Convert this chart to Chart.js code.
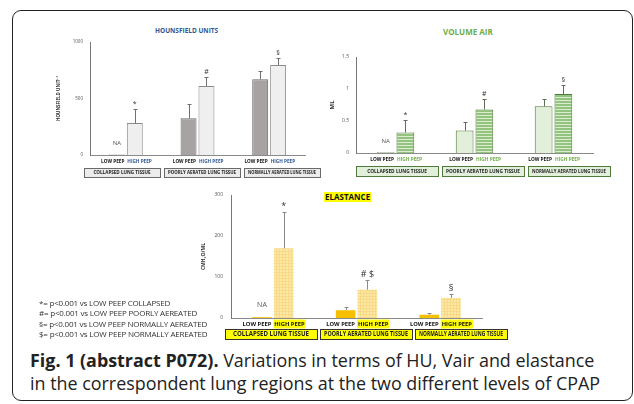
<!DOCTYPE html>
<html>
<head>
<meta charset="utf-8">
<script src="https://cdn.jsdelivr.net/npm/chart.js@4.4.1/dist/chart.umd.min.js"></script>
<style>
  body { margin: 0; width: 634px; height: 404px; background: #fff; position: relative; overflow: hidden; font-family: 'Open Sans', sans-serif; }
  #frame { position: absolute; left: 12px; top: 10px; width: 619px; height: 389px; border: 1.5px solid #222; border-radius: 9px; }
  canvas { position: absolute; }
  .t { position: absolute; white-space: nowrap; font-weight: bold; line-height: 1; }
  #notes { position: absolute; left: 39px; top: 298px; font-size: 8px; line-height: 10.3px; color: #333; letter-spacing: -0.2px; }
  #caption { position: absolute; left: 30px; top: 349px; font-size: 17.9px; line-height: 22.5px; color: #222; white-space: nowrap; }
</style>
</head>
<body>
<div id="frame"></div>

<div class="t" style="left:155px;top:28px;font-size:6.5px;color:#2f5597">HOUNSFIELD UNITS</div>
<div class="t" style="left:443px;top:28px;font-size:8px;color:#70ad47">VOLUME AIR</div>
<div class="t" style="left:324px;top:192px;font-size:8px;color:#111;background:#ffff00;padding:1px 1px">ELASTANCE</div>

<canvas id="huChart" width="290" height="165" style="left:40px;top:20px"></canvas>
<canvas id="volChart" width="310" height="163" style="left:310px;top:20px"></canvas>
<canvas id="elChart" width="340" height="165" style="left:190px;top:183px"></canvas>

<div id="notes">
  *= p&lt;0.001 vs LOW PEEP COLLAPSED<br>
  #= p&lt;0.001 vs LOW PEEP POORLY AEREATED<br>
  §= p&lt;0.001 vs LOW PEEP NORMALLY AEREATED<br>
  $= p&lt;0.001 vs LOW PEEP NORMALLY AEREATED
</div>

<div id="caption"><b>Fig. 1 (abstract P072).</b> Variations in terms of HU, Vair and elastance<br>in the correspondent lung regions at the two different levels of CPAP</div>

<script>
// categories (lung regions) and the two PEEP levels
var categories = ['COLLAPSED LUNG TISSUE', 'POORLY AERATED LUNG TISSUE', 'NORMALLY AERATED LUNG TISSUE'];
var peepLabels = ['LOW PEEP', 'HIGH PEEP'];

// Hounsfield units
var huLow = [5, 325, 670];
var huLowSd = [0, 124, 76];
var huHigh = [283, 611, 796];
var huHighSd = [124, 82, 65];
var huTicks = [0, 500, 1000];

// volume air (ml)
var volLow = [0.01, 0.35, 0.73];
var volLowSd = [0, 0.14, 0.12];
var volHigh = [0.32, 0.68, 0.92];
var volHighSd = [0.19, 0.16, 0.14];
var volTicks = [0, 0.5, 1, 1.5];

// elastance (cmH2O/ml)
var elLow = [2, 19, 8];
var elLowSd = [0, 9, 3];
var elHigh = [170, 69, 49];
var elHighSd = [89, 23, 9];
var elTicks = [0, 100, 200, 300];

// significance marks
var lowMarks = ['NA', '', ''];
var huMarks = ['*', '#', '§'];
var volMarks = ['*', '#', '§'];
var elMarks = ['*', '# $', '§'];

function makePattern(w, h, bg, fg, draw) {
    var c = document.createElement('canvas');
    c.width = w; c.height = h;
    var g = c.getContext('2d');
    g.fillStyle = bg;
    g.fillRect(0, 0, w, h);
    g.fillStyle = fg;
    draw(g);
    return g.createPattern(c, 'repeat');
}

var greenStripes = makePattern(4, 3, '#93c47d', '#dcecd2', function (g) { g.fillRect(0, 2, 4, 1); });
var yellowGrid = makePattern(3, 3, '#fde8a6', '#f8d987', function (g) { g.fillRect(0, 2, 3, 1); g.fillRect(2, 0, 1, 3); });

// draws error bars, marks, PEEP labels and the region boxes
function extras(cfg) {
    return {
        id: 'extras',
        afterDatasetsDraw: function (chart) {
            var ctx = chart.ctx;
            var y = chart.scales.y;
            var area = chart.chartArea;
            var sds = [cfg.lowSd, cfg.highSd];
            var vals = [cfg.low, cfg.high];
            var lowBars = chart.getDatasetMeta(0).data;
            var highBars = chart.getDatasetMeta(1).data;
            ctx.save();

            // error bars
            ctx.strokeStyle = cfg.errColor;
            ctx.lineWidth = 1;
            [lowBars, highBars].forEach(function (bars, d) {
                bars.forEach(function (bar, i) {
                    if (!sds[d][i]) return;
                    var top = Math.round(y.getPixelForValue(vals[d][i] + sds[d][i]));
                    var x = Math.round(bar.x) + 0.5;
                    ctx.beginPath();
                    ctx.moveTo(x, bar.y);
                    ctx.lineTo(x, top + 0.5);
                    ctx.moveTo(x - 2, top + 0.5);
                    ctx.lineTo(x + 2, top + 0.5);
                    ctx.stroke();
                });
            });

            // significance marks above the high PEEP bars
            ctx.textAlign = 'center';
            ctx.textBaseline = 'alphabetic';
            ctx.fillStyle = '#333';
            ctx.font = cfg.markFont;
            highBars.forEach(function (bar, i) {
                var top = y.getPixelForValue(cfg.high[i] + cfg.highSd[i]);
                ctx.fillText(cfg.marks[i], bar.x, top - cfg.markGap);
            });

            // NA over the missing low PEEP bar
            ctx.font = cfg.naFont;
            ctx.fillStyle = '#555';
            lowBars.forEach(function (bar, i) {
                if (lowMarks[i]) ctx.fillText(lowMarks[i], bar.x, area.bottom - cfg.naGap);
            });

            // LOW PEEP / HIGH PEEP, meeting at the gap between the two bars
            ctx.font = cfg.peepFont;
            ctx.textBaseline = 'middle';
            var ly = area.bottom + cfg.peepGap;
            lowBars.forEach(function (bar, i) {
                var mid = (bar.x + highBars[i].x) / 2;
                ctx.textAlign = 'right';
                ctx.fillStyle = '#111';
                ctx.fillText(peepLabels[0], mid - 1.5, ly);
                ctx.textAlign = 'left';
                if (cfg.highBg) {
                    var tw = ctx.measureText(peepLabels[1]).width;
                    ctx.fillStyle = cfg.highBg;
                    ctx.fillRect(mid + 0.5, ly - 4.5, tw + 2, 9);
                }
                ctx.fillStyle = cfg.highText;
                ctx.fillText(peepLabels[1], mid + 1.5, ly);
            });

            // region boxes, one per category, laid out left to right from the axis
            ctx.textAlign = 'center';
            ctx.font = cfg.boxFont;
            var catW = (area.right - area.left) / categories.length;
            var w = Math.round(catW * cfg.boxScale);
            var bx = Math.round(area.left + cfg.boxStart);
            var by = area.bottom + cfg.boxTop;
            categories.forEach(function (name) {
                ctx.fillStyle = cfg.boxFill;
                ctx.fillRect(bx, by, w, cfg.boxH);
                ctx.strokeStyle = cfg.boxLine;
                ctx.lineWidth = 1;
                ctx.strokeRect(bx + 0.5, by + 0.5, w, cfg.boxH);
                ctx.fillStyle = '#222';
                ctx.fillText(name, bx + w / 2, by + cfg.boxH / 2 + 0.5, w - 8);
                bx += w + cfg.boxGap;
            });
            ctx.restore();
        }
    };
}

function makeChart(id, cfg) {
    return new Chart(document.getElementById(id), {
        type: 'bar',
        data: {
            labels: categories,
            datasets: [{
                label: peepLabels[0],
                data: cfg.low,
                backgroundColor: cfg.lowFill,
                borderColor: cfg.lowBorder,
                borderWidth: cfg.borderWidth,
                categoryPercentage: cfg.catPct,
                barPercentage: cfg.barPct
            }, {
                label: peepLabels[1],
                data: cfg.high,
                backgroundColor: cfg.highFill,
                borderColor: cfg.highBorder,
                borderWidth: cfg.borderWidth,
                categoryPercentage: cfg.catPct,
                barPercentage: cfg.barPct
            }]
        },
        options: {
            responsive: false,
            animation: false,
            layout: { padding: cfg.padding },
            plugins: { legend: { display: false }, tooltip: { enabled: false }, title: { display: false } },
            scales: {
                x: {
                    grid: { display: false },
                    ticks: { display: false },
                    border: { color: '#8a8a8a' },
                    afterFit: function (s) { s.height = cfg.xH; }
                },
                y: {
                    min: 0,
                    max: cfg.ticks[cfg.ticks.length - 1],
                    afterBuildTicks: function (s) { s.ticks = cfg.ticks.map(function (v) { return { value: v }; }); },
                    ticks: { font: { size: cfg.tickSize, family: 'Open Sans' }, color: '#555', padding: cfg.tickPad, callback: function (v) { return String(v); } },
                    grid: { display: false, drawTicks: false },
                    border: { color: '#777' },
                    title: { display: true, text: cfg.yTitle, color: '#333', padding: 0, font: { size: cfg.titleSize, weight: 'bold', family: 'Open Sans' } },
                    afterFit: function (s) { s.width = cfg.yW; }
                }
            }
        },
        plugins: [extras(cfg)]
    });
}

makeChart('huChart', {
    low: huLow, lowSd: huLowSd, high: huHigh, highSd: huHighSd, ticks: huTicks, marks: huMarks,
    lowFill: '#a8a3a3', lowBorder: '#6b6767', highFill: '#efefef', highBorder: '#8a8a8a', borderWidth: 1,
    catPct: 0.5, barPct: 0.89,
    padding: { left: 16, top: 22, right: 25, bottom: 0 }, yW: 34, xH: 30,
    tickSize: 4.5, tickPad: 7, yTitle: 'HOUNSFIELD UNIT⁻¹', titleSize: 4.5,
    errColor: '#707070', markFont: '7px "Open Sans"', markGap: 3, naFont: '6px "Open Sans"', naGap: 10,
    peepFont: 'bold 4.7px "Open Sans"', peepGap: 7, highText: '#2f5597', highBg: null,
    boxFont: 'bold 4.6px "Open Sans"', boxStart: -6, boxTop: 13, boxH: 9, boxScale: 1.06, boxGap: 4,
    boxFill: '#ececec', boxLine: '#6a6a6a'
});

makeChart('volChart', {
    low: volLow, lowSd: volLowSd, high: volHigh, highSd: volHighSd, ticks: volTicks, marks: volMarks,
    lowFill: '#e2efda', lowBorder: '#4f7a3a', highFill: greenStripes, highBorder: '#4f7a3a', borderWidth: 1,
    catPct: 0.5, barPct: 0.9,
    padding: { left: 19, top: 37, right: 27, bottom: 0 }, yW: 27, xH: 30,
    tickSize: 5, tickPad: 7, yTitle: 'ML', titleSize: 6,
    errColor: '#5f6f55', markFont: '7px "Open Sans"', markGap: 3, naFont: '6px "Open Sans"', naGap: 10,
    peepFont: 'bold 4.8px "Open Sans"', peepGap: 7, highText: '#70ad47', highBg: null,
    boxFont: 'bold 4.8px "Open Sans"', boxStart: 0, boxTop: 13, boxH: 10, boxScale: 1.04, boxGap: 4,
    boxFill: '#e2efda', boxLine: '#4f7a3a'
});

makeChart('elChart', {
    low: elLow, lowSd: elLowSd, high: elHigh, highSd: elHighSd, ticks: elTicks, marks: elMarks,
    lowFill: '#f6c000', lowBorder: '#f6c000', highFill: yellowGrid, highBorder: '#f8dc8a', borderWidth: 0,
    catPct: 0.52, barPct: 0.9,
    padding: { left: 11, top: 12, right: 48, bottom: 0 }, yW: 30, xH: 30,
    tickSize: 5, tickPad: 8, yTitle: 'CMH₂O/ML', titleSize: 5,
    errColor: '#8a8a8a', markFont: '9px "Open Sans"', markGap: 3, naFont: '7px "Open Sans"', naGap: 11,
    peepFont: 'bold 5.8px "Open Sans"', peepGap: 6, highText: '#111', highBg: '#ffff00',
    boxFont: 'bold 6.1px "Open Sans"', boxStart: -6, boxTop: 11, boxH: 10, boxScale: 1.095, boxGap: 3,
    boxFill: '#ffff00', boxLine: '#333'
});
</script>
</body>
</html>
